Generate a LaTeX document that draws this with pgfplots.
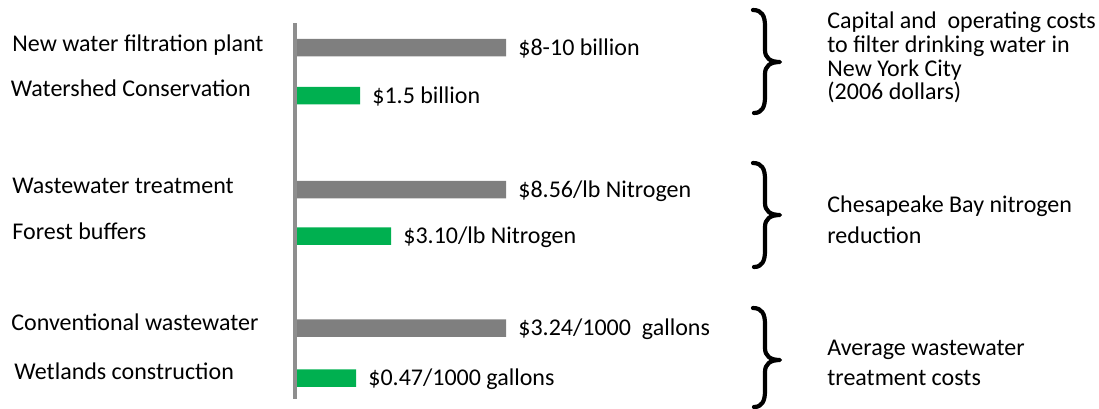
\documentclass[border=0pt]{standalone}
\usepackage{fontspec}
\setmainfont{Carlito}
\usepackage{pgfplots}
\pgfplotsset{compat=1.18}
\definecolor{bargray}{RGB}{127,127,127}
\definecolor{bargreen}{RGB}{0,176,80}
\definecolor{axgray}{RGB}{142,142,142}
\newcommand{\mybrace}[3]{%
 \draw[line width=2.1pt, line cap=round, line join=round]
 (axis cs:457,#1) .. controls (axis cs:466,#1) and (axis cs:469,{#1+6}) .. (axis cs:469,{#1+16})
 -- (axis cs:469,{#2-12}) .. controls (axis cs:469,{#2-4}) and (axis cs:474,#2) .. (axis cs:484,#2)
 .. controls (axis cs:474,#2) and (axis cs:469,{#2+4}) .. (axis cs:469,{#2+12})
 -- (axis cs:469,{#3-16}) .. controls (axis cs:469,{#3-6}) and (axis cs:466,#3) .. (axis cs:458,#3);}
\begin{document}
\begin{tikzpicture}[font=\fontsize{12}{14.4}\selectfont]
\begin{axis}[
  scale only axis, width=549.5pt, height=204pt,
  xmin=-296, xmax=803, ymin=0, ymax=408, y dir=reverse,
  hide axis, clip=false,
  bar width=8.75pt,
  nodes near coords, point meta=explicit symbolic,
  every node near coord/.style={anchor=base west, inner sep=0pt, xshift=6pt, yshift=-3.85pt,
     font=\fontsize{12}{14.4}\selectfont, text=black},
]
\addplot[xbar, bar shift=0pt, fill=bargray, draw=none] coordinates {
  (210,47.5) [\$8-10 billion]
  (210,189.5) [\$8.56/lb Nitrogen]
  (210,328) [\$3.24/1000~ gallons]
};
\addplot[xbar, bar shift=0pt, fill=bargreen, draw=none] coordinates {
  (64,95.5) [\$1.5 billion]
  (95,236) [\$3.10/lb Nitrogen]
  (60,378) [\$0.47/1000 gallons]
};
\draw[line width=2pt, axgray] (axis cs:-1,23) -- (axis cs:-1,399);
% category labels
\node[anchor=base west, inner sep=0pt] at (axis cs:-284,51) {New water filtration plant};
\node[anchor=base west, inner sep=0pt] at (axis cs:-285.5,96) {Watershed Conservation};
\node[anchor=base west, inner sep=0pt] at (axis cs:-284,193.5) {Wastewater treatment};
\node[anchor=base west, inner sep=0pt] at (axis cs:-284,239) {Forest buffers};
\node[anchor=base west, inner sep=0pt] at (axis cs:-285,330) {Conventional wastewater};
\node[anchor=base west, inner sep=0pt] at (axis cs:-282,379.5) {Wetlands construction};
% braces
\mybrace{10}{62}{113}
\mybrace{163}{215}{267}
\mybrace{308}{360}{407}
% group notes
\node[anchor=base west, inner sep=0pt] at (axis cs:531,28.5) {Capital and~ operating costs};
\node[anchor=base west, inner sep=0pt] at (axis cs:531,52.3) {to filter drinking water in};
\node[anchor=base west, inner sep=0pt] at (axis cs:531,76) {New York City};
\node[anchor=base west, inner sep=0pt] at (axis cs:531,99.8) {(2006 dollars)};
\node[anchor=base west, inner sep=0pt] at (axis cs:531,212) {Chesapeake Bay nitrogen};
\node[anchor=base west, inner sep=0pt] at (axis cs:531,243) {reduction};
\node[anchor=base west, inner sep=0pt] at (axis cs:531,355.5) {Average wastewater};
\node[anchor=base west, inner sep=0pt] at (axis cs:531,385.5) {treatment costs};
\end{axis}
\pgfresetboundingbox
\path (current axis.south west) rectangle (current axis.north east);
\end{tikzpicture}
\end{document}
